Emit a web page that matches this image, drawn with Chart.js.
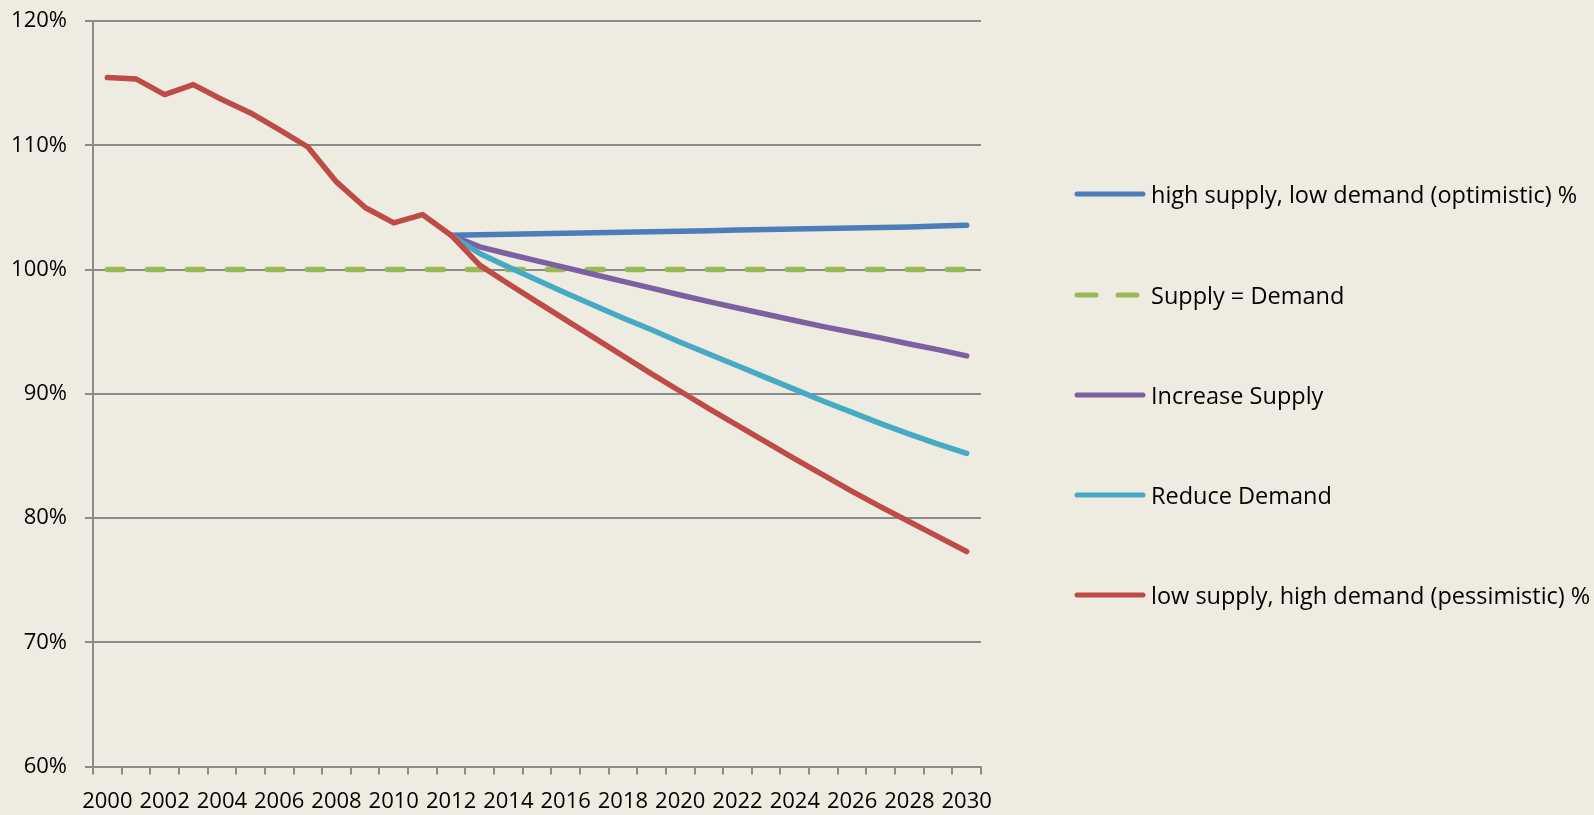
<!DOCTYPE html>
<html>
<head>
<meta charset="utf-8">
<script src="https://cdn.jsdelivr.net/npm/chart.js@4.4.1/dist/chart.umd.min.js"></script>
<style>
  html, body { margin: 0; padding: 0; background: #EEECE1; }
  #wrap { position: relative; width: 1594px; height: 815px; background: #EEECE1; }
  canvas { position: absolute; left: 0; top: 0; }
  .lg { position: absolute; left: 1074px; height: 30px; display: flex; align-items: center; white-space: nowrap;
        font-family: "Open Sans", sans-serif; font-size: 23.5px; color: #000; }
  .lg svg { margin-right: 5px; flex: none; }
</style>
</head>
<body>
<div id="wrap">
  <canvas id="c" width="1594" height="815"></canvas>
  <div id="legend"></div>
</div>
<script>
const years = ["2000","2001","2002","2003","2004","2005","2006","2007","2008","2009","2010",
  "2011","2012","2013","2014","2015","2016","2017","2018","2019","2020",
  "2021","2022","2023","2024","2025","2026","2027","2028","2029","2030"];

const seriesNames = [
  "high supply, low demand (optimistic) %",
  "Supply = Demand",
  "Increase Supply",
  "Reduce Demand",
  "low supply, high demand (pessimistic) %"
];

const highSupplyLowDemand = [null,null,null,null,null,null,null,null,null,null,null,null,
  102.76,102.80,102.84,102.88,102.92,102.96,103.00,103.04,103.08,
  103.12,103.17,103.21,103.25,103.30,103.34,103.39,103.43,103.50,103.56];

const supplyEqualsDemand = [100,100,100,100,100,100,100,100,100,100,100,
  100,100,100,100,100,100,100,100,100,100,
  100,100,100,100,100,100,100,100,100,100];

const increaseSupply = [null,null,null,null,null,null,null,null,null,null,null,null,
  102.76,101.82,101.25,100.70,100.15,99.60,99.05,98.50,97.95,
  97.42,96.90,96.40,95.90,95.40,94.95,94.50,94.00,93.55,93.05];

const reduceDemand = [null,null,null,null,null,null,null,null,null,null,null,null,
  102.76,101.29,100.20,99.15,98.10,97.10,96.10,95.15,94.15,
  93.20,92.25,91.30,90.35,89.40,88.50,87.60,86.75,85.95,85.20];

const lowSupplyHighDemand = [115.45,115.34,114.08,114.88,113.68,112.60,111.26,109.86,107.05,104.99,103.75,
  104.42,102.76,100.35,98.85,97.40,95.95,94.50,93.05,91.60,90.20,
  88.80,87.45,86.10,84.75,83.45,82.15,80.90,79.70,78.50,77.30];

const colors = ["#4A7EBB", "#98B954", "#7D60A0", "#46AAC5", "#BE4B48"];
const dashes = [[], [16, 24], [], [], []];
const seriesData = [highSupplyLowDemand, supplyEqualsDemand, increaseSupply, reduceDemand, lowSupplyHighDemand];
const drawOrder = [5, 4, 3, 2, 1];

const FONT = "'Open Sans', sans-serif";

const datasets = seriesData.map((d, i) => ({
  label: seriesNames[i],
  data: d,
  borderColor: colors[i],
  backgroundColor: colors[i],
  borderWidth: 5.5,
  borderDash: dashes[i],
  borderCapStyle: "round",
  borderJoinStyle: "round",
  pointRadius: 0,
  pointHoverRadius: 0,
  tension: 0,
  spanGaps: false,
  order: drawOrder[i]
}));

new Chart(document.getElementById("c"), {
  type: "line",
  data: { labels: years, datasets: datasets },
  options: {
    responsive: false,
    animation: false,
    layout: { padding: { left: 0, right: 613, top: 21, bottom: 0 } },
    plugins: { legend: { display: false }, tooltip: { enabled: false } },
    scales: {
      x: {
        type: "category",
        offset: true,
        afterFit: function(s) { s.height = 48.5; s.paddingTop = 0; s.paddingBottom = 0; },
        grid: { offset: true, drawOnChartArea: false, drawTicks: true, tickLength: 8, color: "#8B8B8B", lineWidth: 2 },
        border: { display: true, color: "#8B8B8B", width: 2 },
        ticks: {
          autoSkip: false, maxRotation: 0, minRotation: 0, padding: 14,
          color: "#000", font: { family: FONT, size: 22 },
          callback: function(v, i) { return i % 2 === 0 ? this.getLabelForValue(v) : ""; }
        }
      },
      y: {
        min: 60, max: 120,
        afterFit: function(s) { s.width = 93; s.paddingTop = 0; s.paddingBottom = 0; },
        grid: { drawTicks: true, tickLength: 8, color: "#8B8B8B", lineWidth: 2 },
        border: { display: true, color: "#8B8B8B", width: 2 },
        ticks: {
          stepSize: 10, padding: 18, color: "#000", font: { family: FONT, size: 22 },
          callback: v => v + "%"
        }
      }
    }
  }
});

// HTML legend built from the same series arrays
const legendCenters = [194, 295, 395, 495, 595];
const lg = document.getElementById("legend");
seriesNames.forEach((name, i) => {
  const row = document.createElement("div");
  row.className = "lg";
  row.style.top = (legendCenters[i] - 15) + "px";
  const dash = dashes[i].length ? 'stroke-dasharray="19 22"' : '';
  row.innerHTML = '<svg width="72" height="10"><line x1="3" y1="5" x2="' + (dashes[i].length ? 64 : 69) + '" y2="5" stroke="' + colors[i] +
    '" stroke-width="5" stroke-linecap="round" ' + dash + '/></svg><span>' + name + '</span>';
  lg.appendChild(row);
});
</script>
</body>
</html>
